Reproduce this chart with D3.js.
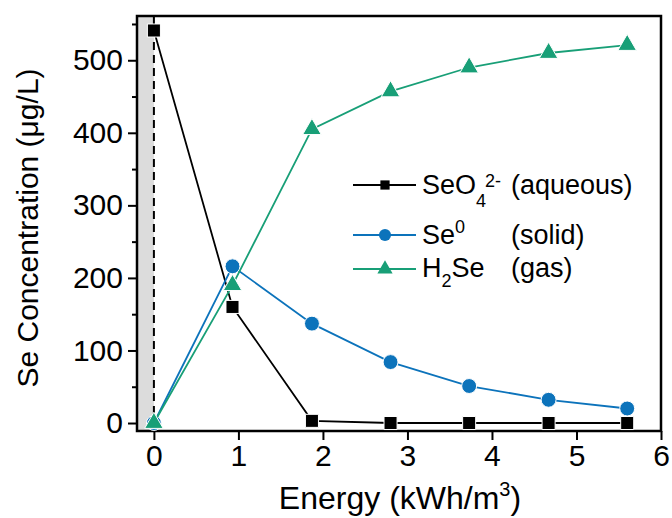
<!DOCTYPE html>
<html>
<head>
<meta charset="utf-8">
<script src="https://cdn.jsdelivr.net/npm/d3@7"></script>
<style>
  body { margin: 0; background: #fff; }
  text { font-family: Arial, "Liberation Sans", sans-serif; fill: #000; }
</style>
</head>
<body>
<div id="chart"></div>
<script>
const energy = [0, 0.93, 1.87, 2.8, 3.73, 4.67, 5.6];
const seo4 = [541, 160, 3, 0, 0, 0, 0];
const se0 = [0, 216, 137, 84, 51, 32, 20];
const h2se = [0, 190, 405, 457, 490, 510, 521];
const xTicks = [0, 1, 2, 3, 4, 5, 6];
const yTicks = [0, 100, 200, 300, 400, 500];
const yMinor = [50, 150, 250, 350, 450, 550];

const w = 672, h = 518;
const padL = 137, padR = 661, padT = 16, padB = 431;

const svg = d3.select("#chart").append("svg")
  .attr("width", w).attr("height", h);

const x = d3.scaleLinear().domain([-0.2, 6]).range([padL, padR]);
const y = d3.scaleLinear().domain([-11, 561]).range([padB, padT]);

// grey band before x = 0
svg.append("rect")
  .attr("x", x(-0.2)).attr("y", padT)
  .attr("width", x(0) - x(-0.2)).attr("height", padB - padT)
  .attr("fill", "#dcdcdc");

svg.append("line")
  .attr("x1", x(0)).attr("x2", x(0))
  .attr("y1", padT).attr("y2", padB)
  .attr("stroke", "#000").attr("stroke-width", 2)
  .attr("stroke-dasharray", "8,5");

// axes
const xAxis = svg.append("g")
  .attr("transform", "translate(0," + padB + ")")
  .call(d3.axisBottom(x).tickValues(xTicks).tickSize(9).tickPadding(5).tickFormat(d3.format("d")));
const yAxis = svg.append("g")
  .attr("transform", "translate(" + padL + ",0)")
  .call(d3.axisLeft(y).tickValues(yTicks).tickSize(9).tickPadding(5));
svg.append("g")
  .attr("transform", "translate(" + padL + ",0)")
  .call(d3.axisLeft(y).tickValues(yMinor).tickSize(5).tickFormat(""))
  .select(".domain").remove();

[xAxis, yAxis].forEach(g => {
  g.select(".domain").remove();
  g.selectAll(".tick text").style("font-size", "30px");
});
svg.selectAll(".tick line").attr("stroke-width", 2);

svg.append("rect")
  .attr("x", padL).attr("y", padT)
  .attr("width", padR - padL).attr("height", padB - padT)
  .attr("fill", "none").attr("stroke", "#000").attr("stroke-width", 2.5);

const series = [
  { vals: seo4, color: "#000000", shape: d3.symbolSquare, size: 170, legSize: 85 },
  { vals: se0, color: "#0c73bb", shape: d3.symbolCircle, size: 175, legSize: 115 },
  { vals: h2se, color: "#189f77", shape: d3.symbolTriangle, size: 150, legSize: 100 }
];

const line = d3.line().x(d => x(d[0])).y(d => y(d[1]));

series.forEach(s => {
  const pts = energy.map((e, i) => [e, s.vals[i]]);
  svg.append("path")
    .datum(pts)
    .attr("d", line)
    .attr("fill", "none")
    .attr("stroke", s.color)
    .attr("stroke-width", 1.8);
  svg.append("g").selectAll("path")
    .data(pts)
    .enter()
    .append("path")
    .attr("transform", d => "translate(" + x(d[0]) + "," + y(d[1]) + ")")
    .attr("d", d3.symbol().type(s.shape).size(s.size))
    .attr("fill", s.color)
    .attr("stroke", "#fff")
    .attr("stroke-width", 1);
});

// legend
const legRows = [185, 235, 269];
const leg = svg.append("g");
series.forEach((s, i) => {
  const ly = legRows[i];
  leg.append("line")
    .attr("x1", 353).attr("x2", 416).attr("y1", ly).attr("y2", ly)
    .attr("stroke", s.color).attr("stroke-width", 1.8);
  leg.append("path")
    .attr("transform", "translate(385," + ly + ")")
    .attr("d", d3.symbol().type(s.shape).size(s.legSize))
    .attr("fill", s.color);
});

const fs = "27px", sub = "18px";
const t1 = leg.append("text").attr("x", 422).attr("y", 194).style("font-size", fs);
t1.append("tspan").text("SeO");
t1.append("tspan").attr("dy", 13).style("font-size", sub).text("4");
t1.append("tspan").attr("dy", -20).attr("dx", -1).style("font-size", sub).text("2-");
leg.append("text").attr("x", 511).attr("y", 194).style("font-size", fs).text("(aqueous)");

const t2 = leg.append("text").attr("x", 422).attr("y", 244).style("font-size", fs);
t2.append("tspan").text("Se");
t2.append("tspan").attr("dy", -11).style("font-size", sub).text("0");
leg.append("text").attr("x", 511).attr("y", 244).style("font-size", fs).text("(solid)");

const t3 = leg.append("text").attr("x", 422).attr("y", 277).style("font-size", fs);
t3.append("tspan").text("H");
t3.append("tspan").attr("dy", 10).style("font-size", sub).text("2");
t3.append("tspan").attr("dy", -10).text("Se");
leg.append("text").attr("x", 511).attr("y", 277).style("font-size", fs).text("(gas)");

// axis titles
const xt = svg.append("text")
  .attr("x", 400).attr("y", 509)
  .attr("text-anchor", "middle").style("font-size", "32px");
xt.append("tspan").text("Energy (kWh/m");
xt.append("tspan").attr("dy", -13).style("font-size", "20px").text("3");
xt.append("tspan").attr("dy", 13).text(")");

svg.append("text")
  .attr("transform", "translate(38,228) rotate(-90)")
  .attr("text-anchor", "middle").style("font-size", "30px")
  .text("Se Concentration (μg/L)");
</script>
</body>
</html>
